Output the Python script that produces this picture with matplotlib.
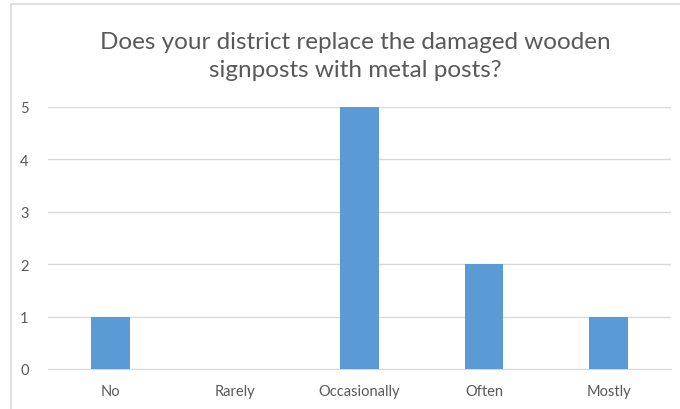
import matplotlib.pyplot as plt
from matplotlib.patches import Rectangle

categories = ["No", "Rarely", "Occasionally", "Often", "Mostly"]
counts = [1, 0, 5, 2, 1]
y_ticks = [0, 1, 2, 3, 4, 5]

plt.rcParams['font.family'] = ['Lato', 'DejaVu Sans']

fig = plt.figure(figsize=(6.8, 4.1), dpi=100)
ax = fig.add_axes([0.0706, 0.0976, 0.916, 0.639])

x = range(len(categories))
ax.bar(x, counts, width=0.31, color='#5B9BD5', zorder=3)

ax.set_xlim(-0.5, len(categories) - 0.5)
ax.set_ylim(0, 5)
ax.set_yticks(y_ticks)
ax.set_xticks(list(x))
ax.set_xticklabels(categories)
ax.grid(axis='y', color='#D9D9D9', linewidth=1, zorder=0)
ax.tick_params(length=0, colors='#595959', labelsize=10.5)
ax.tick_params(axis='x', pad=11)
ax.tick_params(axis='y', pad=14)
for side in ['top', 'right', 'left']:
    ax.spines[side].set_visible(False)
ax.spines['bottom'].set_color('#D9D9D9')

fig.text(0.522, 0.862, "Does your district replace the damaged wooden\nsignposts with metal posts?",
         ha='center', va='center', fontsize=17.5, color='#595959', linespacing=1.45)

# chart border
fig.patches.append(Rectangle((11 / 680, -0.1), 1.0, 1 - 5 / 410 + 0.1, transform=fig.transFigure,
                             fill=False, edgecolor='#D9D9D9', linewidth=1.2))

plt.savefig("out.png", dpi=100)
